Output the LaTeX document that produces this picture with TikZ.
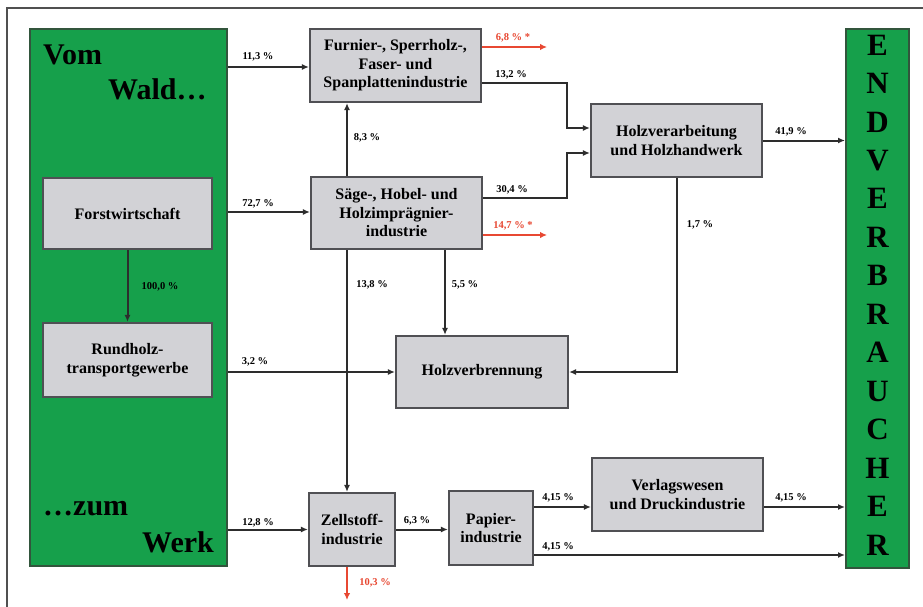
\documentclass[tikz,border=0pt]{standalone}
\usepackage{fontspec}
\setmainfont{Liberation Serif}
\usetikzlibrary{arrows.meta}
\definecolor{wgreen}{RGB}{22,160,75}
\definecolor{wgreenline}{RGB}{50,85,60}
\definecolor{boxfill}{RGB}{210,210,214}
\definecolor{boxline}{RGB}{80,80,84}
\definecolor{conn}{RGB}{45,45,45}
\definecolor{lossred}{RGB}{232,72,50}
\definecolor{framegray}{RGB}{80,80,80}
\tikzset{
  greenbox/.style={draw=wgreenline, fill=wgreen, line width=2pt, inner sep=0pt, rectangle},
  graybox/.style={draw=boxline, fill=boxfill, line width=2.2pt, inner sep=0pt, rectangle, align=center,
    font=\fontsize{16}{18.5}\selectfont\bfseries},
  arr/.style={draw=conn, line width=2pt, -{Latex[length=7pt,width=6pt]}},
  redarr/.style={draw=lossred, line width=2.6pt, -{Latex[length=7pt,width=6.5pt]}},
  pct/.style={font=\fontsize{10.5}{12}\selectfont\bfseries, text=black, inner sep=0pt},
  redpct/.style={pct, text=lossred},
  bigword/.style={font=\fontsize{30}{32}\selectfont\bfseries, inner sep=0pt, anchor=base west},
  letter/.style={font=\fontsize{31}{32}\selectfont\bfseries, inner sep=0pt}
}
\begin{document}
\begin{tikzpicture}[x=1pt,y=-1pt]
\useasboundingbox (0,0) rectangle (923,607);
\fill[white] (0,0) rectangle (923,607);
\draw[framegray, line width=1.2pt] (923,8) -- (7,8) -- (7,607);

% left green block
\node[greenbox, minimum width=197pt, minimum height=537pt] (green) at (128.5,297.5) {};
\node[bigword] (vom) at (43,65) {Vom};
\node[bigword] (wald) at (108,100) {Wald…};
\node[bigword] (zum) at (43,515) {…zum};
\node[bigword] (werk) at (142,552) {Werk};

% right green block
\node[greenbox, minimum width=63pt, minimum height=539pt] (endv) at (877.5,298.5) {};
\foreach \l [count=\i from 0] in {E,N,D,V,E,R,B,R,A,U,C,H,E,R}{
  \node[letter] (L\i) at (877.5,{45+38.46*\i}) {\l};
}

% gray boxes
\node[graybox, minimum width=169pt, minimum height=71pt] (forst) at (127.5,213.5) {Forstwirtschaft};
\node[graybox, minimum width=169pt, minimum height=74pt] (rund) at (127.5,360) {Rundholz-\\transportgewerbe};
\node[graybox, minimum width=171pt, minimum height=73pt] (furn) at (395.5,65.5) {Furnier-, Sperrholz-,\\Faser- und\\Spanplattenindustrie};
\node[graybox, minimum width=171pt, minimum height=72pt] (saege) at (396.5,213) {Säge-, Hobel- und\\Holzimprägnier-\\industrie};
\node[graybox, minimum width=171pt, minimum height=73pt] (holzv) at (676.5,140.5) {Holzverarbeitung\\und Holzhandwerk};
\node[graybox, minimum width=172pt, minimum height=72pt] (verbr) at (482,372) {Holzverbrennung};
\node[graybox, minimum width=86pt, minimum height=73pt] (zell) at (352,529.5) {Zellstoff-\\industrie};
\node[graybox, minimum width=84pt, minimum height=74pt] (papier) at (491,528) {Papier-\\industrie};
\node[graybox, minimum width=171pt, minimum height=73pt] (verlag) at (677.5,494.5) {Verlagswesen\\und Druckindustrie};

% helper coordinates
\coordinate (vx) at (347,0);
\coordinate (vy) at (445,0);
\coordinate (c13a) at (567,83);
\coordinate (c13b) at (567,128);
\coordinate (c30a) at (567,198);
\coordinate (c30b) at (567,153);
\coordinate (r1) at (547,47);
\coordinate (r2) at (547,235);
\coordinate (r3) at (347,600);
\coordinate (h415) at (0,507);
\coordinate (h415b) at (0,555);
\coordinate (h67) at (0,67);
\coordinate (h212) at (0,212);

% connectors
\draw[arr] (green.east |- h67) -- (furn.west |- h67);
\draw[arr] (green.east |- h212) -- (saege.west |- h212);
\draw[arr] (green.east |- verbr.west) -- (verbr.west);
\draw[arr] (green.east |- zell.west) -- (zell.west);
\draw[arr] (forst.south) -- (rund.north);
\draw[arr] (saege.north -| vx) -- (furn.south -| vx);
\draw[arr] (saege.south -| vx) -- (zell.north -| vx);
\draw[arr] (saege.south -| vy) -- (verbr.north -| vy);
\draw[arr] (furn.east |- c13a) -- (c13a) -- (c13b) -- (holzv.west |- c13b);
\draw[arr] (saege.east |- c30a) -- (c30a) -- (c30b) -- (holzv.west |- c30b);
\draw[arr] (holzv.east) -- (holzv.east -| endv.west);
\draw[arr] (holzv.south) -- (holzv.south |- verbr.east) -- (verbr.east);
\draw[arr] (zell.east) -- (zell.east -| papier.west);
\draw[arr] (papier.east |- h415) -- (verlag.west |- h415);
\draw[arr] (verlag.east |- h415) -- (endv.west |- h415);
\draw[arr] (papier.east |- h415b) -- (endv.west |- h415b);
\draw[redarr] (furn.east |- r1) -- (r1);
\draw[redarr] (saege.east |- r2) -- (r2);
\draw[redarr] (zell.south -| vx) -- (r3);

% labels
\node[pct] (l1) at (258,57) {11,3 \%};
\node[pct] (l2) at (258,204) {72,7 \%};
\node[pct] (l3) at (255,362) {3,2 \%};
\node[pct] (l4) at (258,523) {12,8 \%};
\node[pct] (l5) at (160,287) {100,0 \%};
\node[pct] (l6) at (367,138) {8,3 \%};
\node[pct] (l7) at (511,75) {13,2 \%};
\node[pct] (l8) at (512,190) {30,4 \%};
\node[redpct] (l9) at (513,38) {6,8 \% *};
\node[redpct] (l10) at (513,226) {14,7 \% *};
\node[pct] (l11) at (372,285) {13,8 \%};
\node[pct] (l12) at (465,285) {5,5 \%};
\node[pct] (l13) at (791,132) {41,9 \%};
\node[pct] (l14) at (700,225) {1,7 \%};
\node[pct] (l15) at (417,521) {6,3 \%};
\node[pct] (l16) at (558,498) {4,15 \%};
\node[pct] (l17) at (558,547) {4,15 \%};
\node[pct] (l18) at (791,498) {4,15 \%};
\node[redpct] (l19) at (375,583) {10,3 \%};
\end{tikzpicture}
\end{document}
